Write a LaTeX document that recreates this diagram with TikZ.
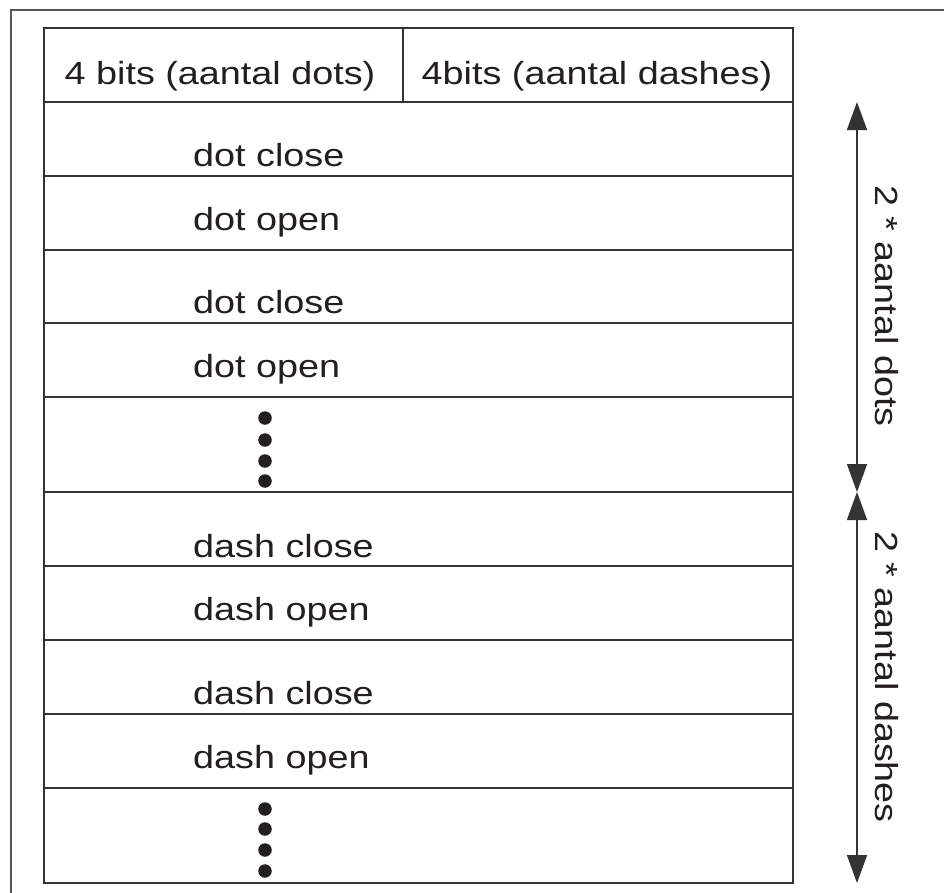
\documentclass[tikz,border=0pt]{standalone}
\usepackage{fontspec}
\newfontfamily\lab{Liberation Sans}[FakeStretch=1.18]
\usetikzlibrary{arrows.meta}
\definecolor{ink}{HTML}{231F20}
\definecolor{rule}{HTML}{333333}
\definecolor{frame}{HTML}{555555}
\begin{document}
\begin{tikzpicture}[x=1pt,y=-1pt,
  grid/.style={draw=rule,line width=2pt},
  txt/.style={text=ink,font=\lab\fontsize{32}{38}\selectfont,inner sep=0pt},
  rowtxt/.style={txt,anchor=base west},
  sidetxt/.style={txt,rotate=-90},
  bullet/.style={circle,fill=ink,minimum size=13.5pt,inner sep=0pt},
  dim/.style={draw=rule,line width=1.5pt,{Triangle[length=28pt,width=20pt]}-{Triangle[length=28pt,width=20pt]}}]
\useasboundingbox (0,0) rectangle (944,892);
\fill[white] (0,0) rectangle (944,892);
% outer frame (only its top and left edges fall inside the page)
\draw[draw=frame,line width=1.8pt] (11,900) -- (11,10) -- (950,10);
% table outline and header split
\draw[grid] (44,28) rectangle (793,883);
\draw[grid] (403,28) -- (403,102);
% row separators
\foreach \y in {102,176,250,323,397,492,566,640,714,788}
  \draw[grid] (44,\y) -- (793,\y);
% header labels
\node[txt,anchor=base] (hdots) at (220,84) {4 bits (aantal dots)};
\node[txt,anchor=base] (hdashes) at (597,84) {4bits (aantal dashes)};
% row labels
\node[rowtxt] (r1) at (193,166) {dot close};
\node[rowtxt] (r2) at (193,230) {dot open};
\node[rowtxt] (r3) at (193,313) {dot close};
\node[rowtxt] (r4) at (193,377) {dot open};
\node[rowtxt] (r5) at (193,557) {dash close};
\node[rowtxt] (r6) at (193,620) {dash open};
\node[rowtxt] (r7) at (193,704) {dash close};
\node[rowtxt] (r8) at (193,768) {dash open};
% continuation dots
\foreach \y [count=\i] in {418,440,461,481}
  \node[bullet] (da\i) at (265,\y) {};
\foreach \y [count=\i] in {809,829,850,871}
  \node[bullet] (db\i) at (265,\y) {};
% extent arrows
\coordinate (atop) at (857,102);
\coordinate (amid) at (857,492);
\coordinate (abot) at (857,883);
\draw[dim] (atop) -- (amid);
\draw[dim] (amid) -- (abot);
\node[sidetxt] (ldots) at (887,306) {2 * aantal dots};
\node[sidetxt] (ldashes) at (887,677) {2 * aantal dashes};
\end{tikzpicture}
\end{document}
